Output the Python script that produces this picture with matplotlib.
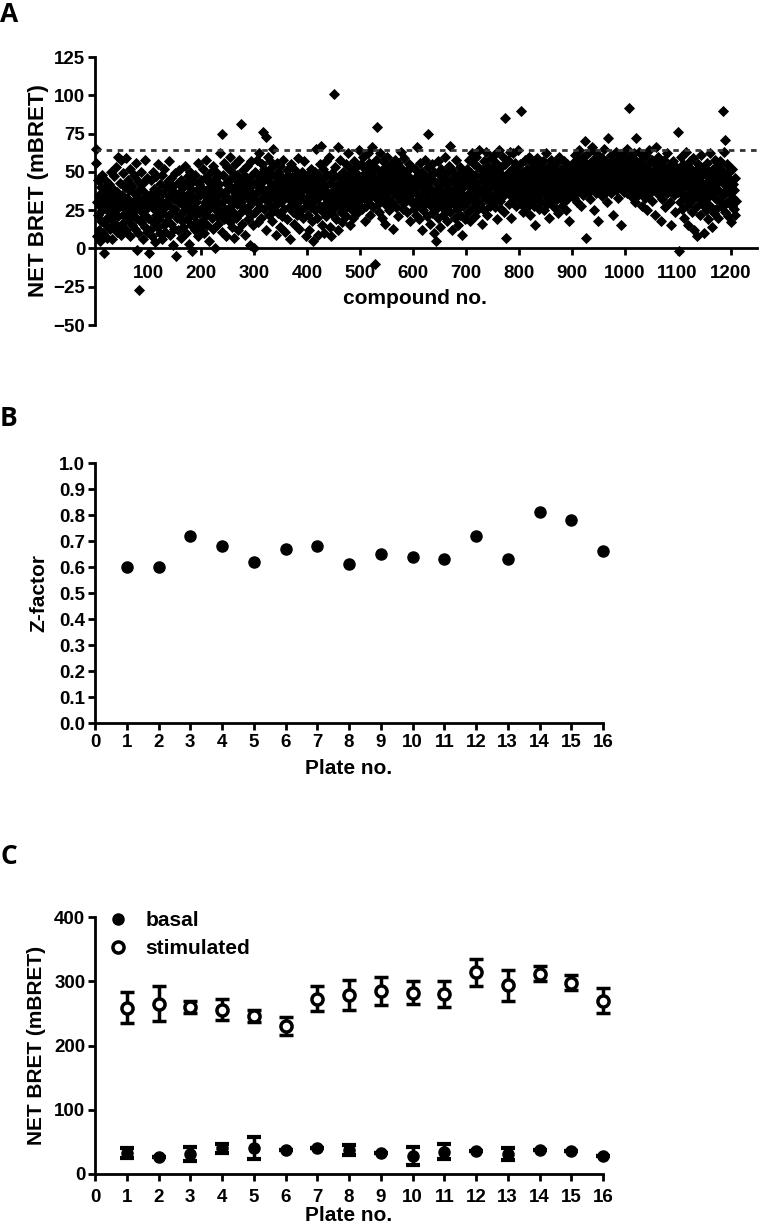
import numpy as np
import matplotlib
matplotlib.use("Agg")
import matplotlib.pyplot as plt

plt.rcParams['font.family'] = ['Liberation Sans', 'DejaVu Sans']
plt.rcParams['font.weight'] = 'bold'

# ---------------- Panel A data (estimated NET BRET per compound) ----------------
block_0001 = "65 56 30 8 45 22 12 35 28 5 40 18 48 25 33 10 -3 29 38 15 44 20 7 31 36 24 42 13 27 50 19 34 6 39 23 47 16 30 53 26 11 37 21 60 32 14 43 28 58 9 35 22 49 17 31 40 26 12 59 33 24 45 19 38 29 8 52 27 15 41 30 22 48 36 13 25 56 20 34 -1 44 10 -27 28 39 17 50 24 31 6 43 21 37 14 58 26 33 11 46 29"
block_0101 = "20 -3 35 12 28 45 8 31 50 17 26 39 4 33 22 47 14 29 55 19 37 10 42 25 31 6 48 23 36 15 52 27 11 40 30 18 44 21 34 57 9 28 46 16 38 24 2 41 32 13 49 26 -5 35 20 43 12 30 51 22 37 7 45 18 29 40 14 33 54 25 10 42 28 19 47 31 3 36 24 50 15 39 27 -2 44 21 33 12 48 30 17 38 26 56 8 42 23 35 14 45"
block_0201 = "40 18 52 27 35 10 46 30 22 58 15 38 44 25 33 5 49 28 41 20 36 54 13 30 45 26 0 39 50 21 34 16 47 29 42 62 24 37 11 75 31 48 19 56 35 26 43 8 38 53 22 32 45 17 60 28 40 14 50 33 24 46 7 36 55 20 41 29 48 12 34 58 23 44 30 81 38 16 51 27 42 35 9 47 25 39 54 19 33 44 28 2 40 57 22 36 48 31 15 0"
block_0301 = "35 50 24 42 58 30 17 45 38 62 27 48 20 40 55 33 76 44 26 52 36 73 12 46 31 60 39 22 49 34 57 28 43 18 53 37 65 25 47 32 9 41 56 29 50 23 44 36 14 54 30 47 21 39 58 33 26 45 11 42 35 51 19 38 48 27 43 6 36 55 31 46 24 40 16 52 34 28 49 37 22 44 59 30 41 13 47 35 25 50 38 20 43 32 57 27 45 8 39 33"
block_0401 = "30 48 22 40 12 35 52 27 44 18 38 5 46 31 25 50 36 65 20 42 9 33 47 28 55 67 39 15 45 24 52 34 10 41 29 57 21 37 48 32 26 60 14 43 35 8 49 30 22 46 38 101 27 53 19 41 33 66 12 47 29 36 58 24 44 31 17 50 39 26 45 34 55 21 40 30 62 28 48 36 15 43 32 52 25 38 46 20 57 35 29 49 41 23 54 37 31 64 44 28"
block_0501 = "40 55 32 47 26 60 38 44 18 52 35 28 48 42 62 30 45 56 22 39 50 34 66 41 27 53 36 46 -10 58 33 79 43 29 51 38 24 47 62 35 44 20 57 31 49 40 16 53 37 45 28 60 42 33 50 25 46 38 55 30 48 41 13 52 36 44 58 27 40 49 34 21 56 43 38 47 31 63 39 52 26 45 35 59 42 30 50 37 24 48 41 55 33 46 18 40 53 36 44 29"
block_0601 = "38 45 26 52 30 41 22 66 35 48 19 44 31 56 27 40 12 50 34 25 47 38 58 29 42 21 36 53 75 32 44 16 48 28 39 55 23 45 33 10 50 37 26 5 43 30 57 20 41 35 48 14 38 52 27 44 31 22 46 36 60 25 42 18 49 33 28 54 39 67 24 45 32 12 51 37 29 43 20 47 34 58 26 40 15 48 31 38 53 22 44 36 9 50 28 41 34 19 46 30"
block_0701 = "42 30 52 24 46 36 58 18 40 49 33 62 27 44 38 55 21 48 35 60 31 43 26 53 39 64 29 47 37 16 51 34 45 57 25 41 50 32 63 38 22 46 54 36 28 49 42 59 33 44 30 52 40 61 27 47 35 56 19 43 50 38 64 31 45 53 26 48 39 60 34 42 24 55 85 7 46 37 58 41 29 50 63 35 44 20 52 38 47 62 32 45 56 28 41 51 36 64 43 33"
block_0801 = "46 38 55 29 90 44 35 50 24 41 58 33 47 38 27 52 43 36 60 31 45 22 49 40 56 34 42 28 53 37 15 46 39 59 32 44 50 26 41 55 36 48 30 43 57 38 25 51 40 35 47 62 29 44 53 33 40 20 49 37 58 42 31 46 54 36 27 50 43 39 56 32 45 23 48 41 60 34 38 52 28 44 47 36 57 30 42 51 25 46 39 55 33 44 18 49 40 53 35 45"
block_0901 = "48 40 56 33 52 44 61 36 47 58 30 50 42 64 38 54 45 28 51 43 60 35 49 57 39 70 46 7 53 41 62 37 48 55 32 50 44 66 40 58 46 25 52 42 63 36 49 56 43 18 51 45 60 38 54 47 34 59 41 50 65 44 53 37 57 48 30 52 72 46 40 55 43 61 36 50 47 22 58 42 54 45 38 63 49 41 56 33 51 46 59 44 15 53 40 48 62 37 55 45"
block_1001 = "50 42 58 36 65 45 53 92 40 48 60 34 55 43 51 38 62 46 30 52 57 72 41 49 35 54 44 63 39 47 56 28 50 42 59 37 46 53 33 61 43 48 25 55 40 51 64 36 47 44 58 31 50 42 39 56 22 48 45 66 40 53 37 60 35 49 43 18 55 47 32 52 41 58 38 45 27 50 43 36 62 46 40 54 30 48 44 15 51 38 57 42 35 49 45 24 53 40 47 37"
block_1101 = "76 -2 44 30 52 38 60 26 46 35 55 20 42 50 33 63 28 48 40 15 53 36 45 57 31 42 24 49 38 59 12 44 34 51 27 47 8 40 55 32 46 22 50 37 61 29 43 35 10 53 41 30 48 25 56 38 44 19 50 34 62 28 45 40 14 52 36 47 23 58 33 42 26 49 39 54 20 44 31 57 37 46 27 51 90 35 63 42 71 24 48 38 55 30 44 21 50 36 45 17 40 28 52 33 42 26 38 22 46 31"
hit_threshold = 64.5

a_blocks = [block_0001, block_0101, block_0201, block_0301, block_0401, block_0501,
            block_0601, block_0701, block_0801, block_0901, block_1001, block_1101]
net_bret_a = np.array([float(v) for b in a_blocks for v in b.split()])
compound_no = np.arange(1, len(net_bret_a) + 1)

# ---------------- Panel B data ----------------
plates = list(range(1, 17))
z_factor = [0.60, 0.60, 0.72, 0.68, 0.62, 0.67, 0.68, 0.61, 0.65, 0.64, 0.63, 0.72, 0.63, 0.81, 0.78, 0.66]

# ---------------- Panel C data ----------------
basal_mean = [33, 27, 31, 40, 41, 37, 40, 37, 32, 28, 35, 36, 31, 38, 36, 28]
basal_err = [8, 0, 11, 7, 17, 0, 0, 8, 0, 14, 12, 0, 9, 0, 0, 0]
stim_mean = [259, 265, 260, 256, 246, 231, 273, 279, 285, 282, 280, 314, 294, 312, 298, 270]
stim_err = [24, 27, 10, 16, 10, 14, 20, 23, 22, 18, 20, 21, 24, 12, 12, 19]

W, H = 760, 1227
fig = plt.figure(figsize=(W / 100, H / 100), dpi=100)

def ax_rect(l, t, r, b):
    return [l / W, 1 - b / H, (r - l) / W, (b - t) / H]

TICK_FS = 13.5
LAB_FS = 15

def style(ax, xpad=2):
    for s in ['top', 'right']:
        ax.spines[s].set_visible(False)
    for s in ['left', 'bottom']:
        ax.spines[s].set_linewidth(2)
    ax.tick_params(width=2, length=5, labelsize=TICK_FS, pad=2, colors='black')
    ax.tick_params(axis='x', pad=xpad)
    for lab in ax.get_xticklabels() + ax.get_yticklabels():
        lab.set_fontweight('bold')

# ---------------- Panel A ----------------
axA = fig.add_axes(ax_rect(95, 57, 757, 325))
axA.plot(compound_no, net_bret_a, 'D', color='black', ms=5, mec='black', mew=0.6, clip_on=False)
axA.axhline(hit_threshold, color='#333333', ls=(0, (2, 2)), lw=2)
axA.set_xlim(0, 1250)
axA.set_ylim(-50, 125)
axA.set_yticks(np.arange(-50, 126, 25))
axA.set_xticks(np.arange(100, 1201, 100))
axA.spines['bottom'].set_position(('data', 0))
style(axA, xpad=7)
axA.set_ylabel('NET BRET (mBRET)', fontsize=16, fontweight='bold', labelpad=3)
axA.text(604, -33, 'compound no.', ha='center', va='center', fontsize=LAB_FS, fontweight='bold')

# ---------------- Panel B ----------------
axB = fig.add_axes(ax_rect(95, 463, 603, 723))
axB.plot(plates, z_factor, 'o', color='black', ms=8, clip_on=False)
axB.set_xlim(0, 16)
axB.set_ylim(0, 1.0)
axB.set_xticks(range(0, 17))
axB.set_yticks(np.round(np.arange(0, 1.01, 0.1), 1))
axB.set_yticklabels([f'{v:.1f}' for v in np.arange(0, 1.01, 0.1)])
style(axB, xpad=3)
axB.set_ylabel('Z-factor', fontsize=LAB_FS, fontweight='bold', labelpad=8)
axB.set_xlabel('Plate no.', fontsize=LAB_FS, fontweight='bold', labelpad=6)

# ---------------- Panel C ----------------
axC = fig.add_axes(ax_rect(95, 917, 603, 1174))
axC.errorbar(plates, basal_mean, yerr=basal_err, fmt='o', color='black', ms=8,
             elinewidth=2.5, capsize=5, capthick=3, label='basal', clip_on=False)
axC.errorbar(plates, stim_mean, yerr=stim_err, fmt='o', color='black', mfc='white', mec='black',
             mew=2.5, ms=8, elinewidth=2.5, capsize=5, capthick=3, label='stimulated', clip_on=False)
axC.set_xlim(0, 16)
axC.set_ylim(0, 400)
axC.set_xticks(range(0, 17))
axC.set_yticks(range(0, 401, 100))
style(axC, xpad=6)
axC.set_ylabel('NET BRET (mBRET)', fontsize=LAB_FS, fontweight='bold', labelpad=6)
axC.set_xlabel('Plate no.', fontsize=LAB_FS, fontweight='bold', labelpad=0)
handles, labels = axC.get_legend_handles_labels()
handles = [h[0] for h in handles]
leg = axC.legend(handles, labels, loc='upper left', bbox_to_anchor=(-0.012, 1.096), frameon=False,
                 handletextpad=0.8, labelspacing=0.45, prop={'weight': 'bold', 'size': LAB_FS},
                 handlelength=1.0)

# Panel letters
for letter, y in [('A', 14), ('B', 418), ('C', 857)]:
    fig.text(0 / W, 1 - y / H, letter, fontsize=19, fontweight='bold', va='center', ha='left',
             family=['Open Sans', 'DejaVu Sans'])

fig.savefig('out.png', dpi=100)
